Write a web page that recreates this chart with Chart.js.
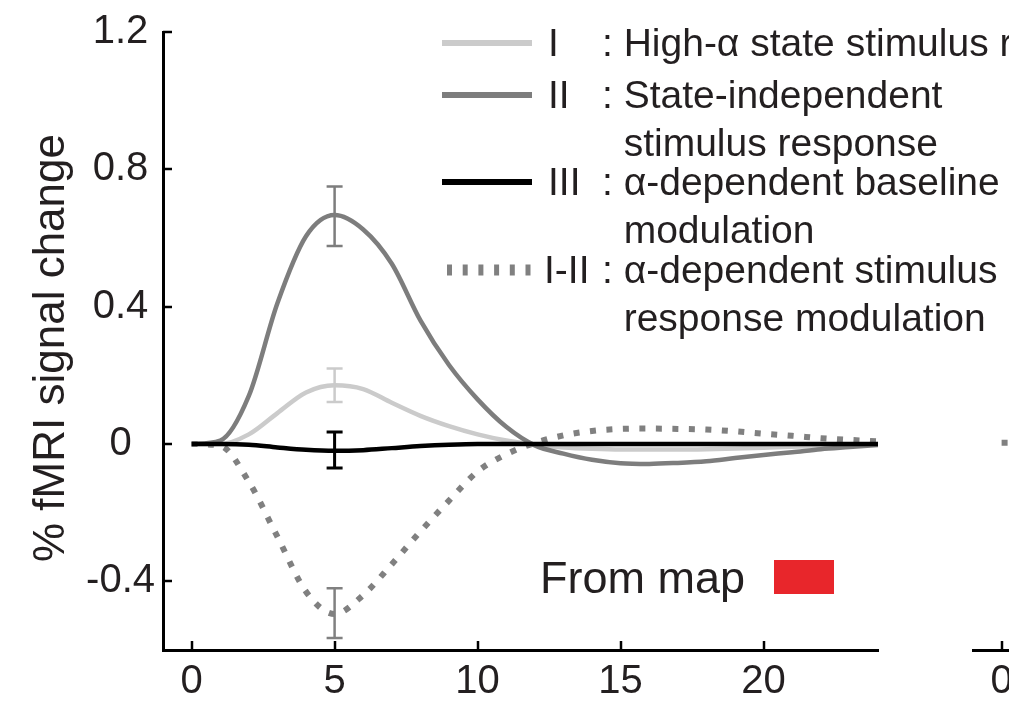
<!DOCTYPE html>
<html>
<head>
<meta charset="utf-8">
<title>fMRI signal change</title>
<script src="https://cdn.jsdelivr.net/npm/chart.js@4/dist/chart.umd.min.js"></script>
<style>
  html, body { margin: 0; padding: 0; background: #fff; overflow: hidden; }
  #wrap { position: relative; width: 1009px; height: 701px; overflow: hidden; }
  #main { position: absolute; left: 0; top: 0; }
  #next { position: absolute; left: 950px; top: 0; }
</style>
</head>
<body>
<div id="wrap">
  <canvas id="next" width="760" height="701"></canvas>
  <canvas id="main" width="1009" height="701"></canvas>
</div>
<script>
// time after stimulus (s) and the four response curves
var times = [0, 1, 2, 3, 4, 5, 6, 7, 8, 9, 10, 11, 12, 13, 14, 15, 16, 17, 18, 19, 20, 21, 22, 23, 24];
var respI = [0, 0, 0.028, 0.09, 0.15, 0.171, 0.16, 0.12, 0.082, 0.052, 0.028, 0.01, -0.002, -0.01, -0.014, -0.016, -0.016, -0.016, -0.015, -0.013, -0.011, -0.008, -0.005, -0.003, -0.001];
var respII = [0, 0.01, 0.14, 0.41, 0.605, 0.667, 0.625, 0.525, 0.36, 0.23, 0.13, 0.05, -0.004, -0.028, -0.046, -0.056, -0.058, -0.055, -0.05, -0.041, -0.032, -0.024, -0.015, -0.009, -0.003];
var respIII = [0, 0, -0.002, -0.01, -0.017, -0.02, -0.018, -0.012, -0.006, -0.002, 0, 0, 0, 0, 0, 0, 0, 0, 0, 0, 0, 0, 0, 0, 0];
var respDiff = [0, -0.005, -0.11, -0.27, -0.43, -0.495, -0.44, -0.35, -0.255, -0.165, -0.08, -0.03, 0.003, 0.025, 0.038, 0.044, 0.045, 0.044, 0.042, 0.037, 0.03, 0.024, 0.017, 0.012, 0.008];

// error bars at the peak, order: I, II, III, I-II
var errTime = 5;
var errLow = [0.122, 0.577, -0.07, -0.565];
var errHigh = [0.22, 0.75, 0.035, -0.42];

var xTicks = [0, 5, 10, 15, 20];
var yTicks = [-0.4, 0, 0.4, 0.8, 1.2];

var legendKeys = ['I', 'II', 'III', 'I-II'];
var legendText = [
  ['High-α state stimulus response'],
  ['State-independent', 'stimulus response'],
  ['α-dependent baseline', 'modulation'],
  ['α-dependent stimulus', 'response modulation']
];
var yTitle = '% fMRI signal change';
var mapLabel = 'From map';

// the neighbouring panel, cut off at the right edge
var nextTimes = [0, 1];
var nextValues = [0, 0];
var nextTicks = [0];

var FONT = "'Liberation Sans', Arial, sans-serif";
var TEXT = '#231f20';
var colI = '#cbcbcb', colII = '#7d7d7d', colIII = '#000000', colDiff = '#808080';
var seriesColors = [colI, colII, colIII, colDiff];

Chart.defaults.font.family = FONT;

function points(xs, ys) {
  return xs.map(function (t, i) { return {x: t, y: ys[i]}; });
}

function tickList(list) {
  return function (scale) {
    scale.ticks = list.map(function (v) { return {value: v}; });
  };
}

// matlab-style ticks that point into the plot
var inwardTicks = {
  id: 'inwardTicks',
  afterDraw: function (chart) {
    var ctx = chart.ctx, area = chart.chartArea;
    var xs = chart.scales.x, ys = chart.scales.y;
    ctx.save();
    ctx.strokeStyle = '#000';
    ctx.lineWidth = 2.5;
    if (xs.options.display) {
      xs.ticks.forEach(function (t) {
        var px = Math.round(xs.getPixelForValue(t.value));
        ctx.beginPath();
        ctx.moveTo(px, area.bottom);
        ctx.lineTo(px, area.bottom - 9);
        ctx.stroke();
      });
    }
    if (ys.options.display) {
      ys.ticks.forEach(function (t) {
        var py = Math.round(ys.getPixelForValue(t.value));
        ctx.beginPath();
        ctx.moveTo(area.left, py);
        ctx.lineTo(area.left + 9, py);
        ctx.stroke();
      });
    }
    ctx.restore();
  }
};

var errorBars = {
  id: 'errorBars',
  afterDatasetsDraw: function (chart) {
    var ctx = chart.ctx;
    var xs = chart.scales.x, ys = chart.scales.y;
    var px = xs.getPixelForValue(errTime);
    ctx.save();
    for (var i = 0; i < errLow.length; i++) {
      var y1 = ys.getPixelForValue(errLow[i]);
      var y2 = ys.getPixelForValue(errHigh[i]);
      ctx.strokeStyle = seriesColors[i];
      ctx.lineWidth = i === 2 ? 3 : 2.5;
      ctx.beginPath();
      ctx.moveTo(px, y1); ctx.lineTo(px, y2);
      ctx.moveTo(px - 8, y1); ctx.lineTo(px + 8, y1);
      ctx.moveTo(px - 8, y2); ctx.lineTo(px + 8, y2);
      ctx.stroke();
    }
    ctx.restore();
  }
};

// legend, axis title and the "From map" key
var decorations = {
  id: 'decorations',
  afterDraw: function (chart) {
    var ctx = chart.ctx;
    var rowY = [43, 95, 182, 270];
    var gap = 48;
    ctx.save();

    ctx.font = '39px ' + FONT;
    ctx.fillStyle = TEXT;
    ctx.textBaseline = 'middle';
    ctx.textAlign = 'left';
    var indent = ctx.measureText(': ').width;
    for (var i = 0; i < legendKeys.length; i++) {
      var y = rowY[i];
      ctx.beginPath();
      ctx.strokeStyle = seriesColors[i];
      if (i === 3) {
        ctx.lineWidth = 11;
        ctx.setLineDash([5, 10.7]);
        ctx.moveTo(447, y); ctx.lineTo(535, y);
      } else {
        ctx.lineWidth = 6;
        ctx.setLineDash([]);
        ctx.moveTo(442, y); ctx.lineTo(532, y);
      }
      ctx.stroke();
      ctx.setLineDash([]);
      ctx.fillText(legendKeys[i], i === 3 ? 544 : 548, y + 2);
      ctx.fillText(': ' + legendText[i][0], 602, y + 2);
      for (var j = 1; j < legendText[i].length; j++) {
        ctx.fillText(legendText[i][j], 602 + indent, y + 2 + gap * j);
      }
    }

    ctx.font = '45px ' + FONT;
    ctx.textBaseline = 'alphabetic';
    ctx.fillText(mapLabel, 540, 593);
    ctx.fillStyle = '#e8262b';
    ctx.fillRect(774, 560, 60, 34);

    ctx.fillStyle = TEXT;
    ctx.translate(64, 348);
    ctx.rotate(-Math.PI / 2);
    ctx.textAlign = 'center';
    ctx.font = '44px ' + FONT;
    ctx.fillText(yTitle, 0, 0);
    ctx.restore();
  }
};

function lineSet(label, ys, color, order) {
  return {
    label: label,
    data: points(times, ys),
    borderColor: color,
    borderWidth: 4.5,
    borderCapStyle: 'butt',
    pointRadius: 0,
    cubicInterpolationMode: 'monotone',
    order: order
  };
}

var diffSet = lineSet('I-II', respDiff, colDiff, 3);
diffSet.borderWidth = 6;
diffSet.borderDash = [6, 10.5];

new Chart(document.getElementById('main'), {
  type: 'line',
  data: {
    datasets: [
      lineSet('III', respIII, colIII, 0),
      lineSet('II', respII, colII, 1),
      lineSet('I', respI, colI, 2),
      diffSet
    ]
  },
  options: {
    responsive: false,
    animation: false,
    devicePixelRatio: 1,
    layout: {padding: {top: 28, right: 131, bottom: 0, left: 0}},
    plugins: {legend: {display: false}, tooltip: {enabled: false}},
    scales: {
      x: {
        type: 'linear', min: -1, max: 24,
        afterBuildTicks: tickList(xTicks),
        afterFit: function (scale) { scale.height = 51; },
        grid: {display: false, drawTicks: false},
        border: {display: true, color: '#000', width: 3},
        ticks: {color: TEXT, font: {size: 40}, padding: 8, maxRotation: 0,
          callback: function (v) { return String(v); }}
      },
      y: {
        type: 'linear', min: -0.6, max: 1.2,
        afterBuildTicks: tickList(yTicks),
        afterFit: function (scale) { scale.width = 163; },
        grid: {display: false, drawTicks: false},
        border: {display: true, color: '#000', width: 3},
        ticks: {color: TEXT, font: {size: 40}, padding: 8, crossAlign: 'center',
          callback: function (v) { return String(v); }}
      }
    }
  },
  plugins: [errorBars, inwardTicks, decorations]
});

var nextSet = {
  label: 'I-II',
  data: points(nextTimes, nextValues),
  borderColor: colDiff,
  borderWidth: 6,
  borderDash: [6, 10.5],
  pointRadius: 0
};

new Chart(document.getElementById('next'), {
  type: 'line',
  data: {datasets: [nextSet]},
  options: {
    responsive: false,
    animation: false,
    devicePixelRatio: 1,
    layout: {padding: {top: 28, right: 22, bottom: 0, left: 23}},
    plugins: {legend: {display: false}, tooltip: {enabled: false}},
    scales: {
      x: {
        type: 'linear', min: -1, max: 24,
        afterBuildTicks: tickList(nextTicks),
        afterFit: function (scale) { scale.height = 51; },
        grid: {display: false, drawTicks: false},
        border: {display: true, color: '#000', width: 3},
        ticks: {color: TEXT, font: {size: 40}, padding: 8, maxRotation: 0,
          callback: function (v) { return String(v); }}
      },
      y: {type: 'linear', min: -0.6, max: 1.2, display: false}
    }
  },
  plugins: [inwardTicks]
});
</script>
</body>
</html>
